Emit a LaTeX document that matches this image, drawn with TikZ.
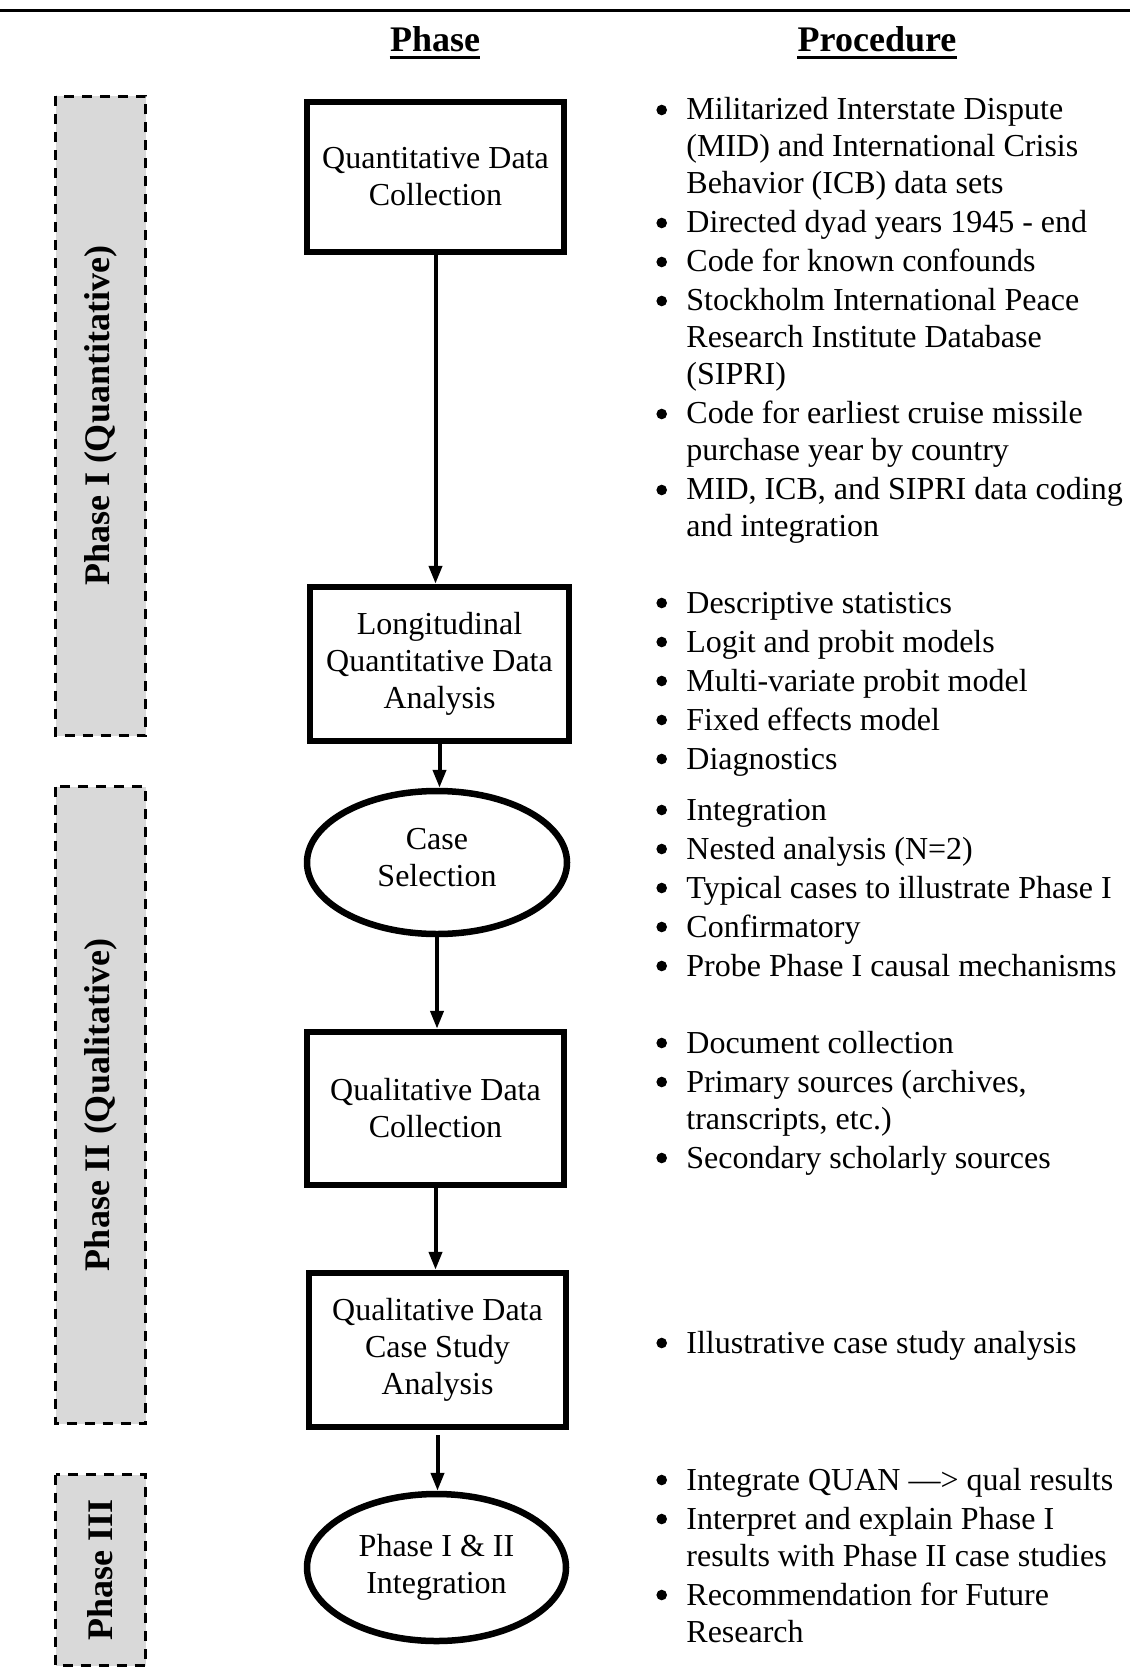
\documentclass[tikz,border=0pt]{standalone}
\usepackage{fontspec}
\setmainfont{Liberation Serif}
\usetikzlibrary{arrows.meta,shapes.geometric}
\definecolor{phasegray}{RGB}{217,217,217}
\newcommand\bul{\makebox[15pt][l]{\tikz[baseline=0pt]\fill (2.8pt,5pt) circle (2.65pt);}}
\tikzset{
  procbox/.style={draw, line width=3.25pt, rectangle, minimum width=128.5pt, minimum height=76.5pt,
    inner sep=0pt, align=center, font=\fontsize{16pt}{18.5pt}\selectfont},
  procell/.style={draw, line width=3.25pt, ellipse, inner sep=0pt, align=center,
    font=\fontsize{16pt}{18.5pt}\selectfont},
  phasebox/.style={draw, fill=phasegray, dash pattern=on 5pt off 4pt, line width=1.5pt,
    rotate=90, minimum height=45pt, inner sep=0pt, font=\fontsize{18pt}{21pt}\selectfont\bfseries},
  arr/.style={line width=2pt, -{Triangle[length=9pt,width=6.5pt]}},
  proclist/.style={anchor=base west, inner sep=0pt, font=\fontsize{16pt}{18.5pt}\selectfont},
  headtxt/.style={anchor=base, inner sep=0pt, font=\fontsize{18pt}{21pt}\selectfont\bfseries},
  uline/.style={line width=1.5pt}
}
\begin{document}
\begin{tikzpicture}[x=0.5pt,y=-0.5pt]
\useasboundingbox (0,0) rectangle (1139,1674);

% top rule
\coordinate (ruleL) at (0,11);
\coordinate (ruleR) at (1130,11);
\draw[line width=1.5pt] (ruleL) -- (ruleR);

% headers
\node[headtxt] (hphase) at (435,52) {Phase};
\node[headtxt] (hproc) at (877,52) {Procedure};
\draw[uline] ([yshift=-2.75pt]hphase.base west) -- ([yshift=-2.75pt]hphase.base east);
\draw[uline] ([yshift=-2.75pt]hproc.base west) -- ([yshift=-2.75pt]hproc.base east);

% phase side boxes
\node[phasebox, minimum width=319.5pt] (p1) at (100.5,416) {Phase I (Quantitative)};
\node[phasebox, minimum width=318.5pt] (p2) at (100.5,1105) {Phase II (Qualitative)};
\node[phasebox, minimum width=95.5pt] (p3) at (100.5,1570) {Phase III};

% flow nodes
\node[procbox, minimum height=75pt] (b1) at (435.5,177) {Quantitative Data\\Collection};
\node[procbox, minimum width=129.5pt, minimum height=77pt] (b2) at (439.5,664) {Longitudinal\\Quantitative Data\\Analysis};
\node[procell, minimum width=130pt, minimum height=71.5pt] (e1) at (437,862.5) {Case\\Selection\rule[-5pt]{0pt}{5pt}};
\node[procbox] (b3) at (435.5,1108.5) {Qualitative Data\\Collection};
\node[procbox, minimum height=77pt] (b4) at (437.5,1350) {Qualitative Data\\Case Study\\Analysis};
\node[procell, minimum width=129.5pt, minimum height=73.5pt] (e2) at (436.5,1567.5) {Phase I \& II\\Integration};

% connectors
\draw[arr] (b1.south) -- (b1.south |- b2.north);
\draw[arr] (b2.south) -- (b2.south |- e1.north);
\draw[arr] (e1.south) -- (e1.south |- b3.north);
\draw[arr] (b3.south) -- (b3.south |- b4.north);
\draw[arr, shorten <=2.5pt] (b4.south) -- (b4.south |- e2.north);

% procedure lists
\node[proclist] (l1) at (656,120) {\begin{tabular}[t]{@{}l@{}l@{}}
\bul & Militarized Interstate Dispute\\
 & (MID) and International Crisis\\
 & Behavior (ICB) data sets\\[1pt]
\bul & Directed dyad years 1945 - end\\[1pt]
\bul & Code for known confounds\\[1pt]
\bul & Stockholm International Peace\\
 & Research Institute Database\\
 & (SIPRI)\\[1pt]
\bul & Code for earliest cruise missile\\
 & purchase year by country\\[1pt]
\bul & MID, ICB, and SIPRI data coding\\
 & and integration
\end{tabular}};

\node[proclist] (l2) at (656,613) {\begin{tabular}[t]{@{}l@{}l@{}}
\bul & Descriptive statistics\\[1pt]
\bul & Logit and probit models\\[1pt]
\bul & Multi-variate probit model\\[1pt]
\bul & Fixed effects model\\[1pt]
\bul & Diagnostics
\end{tabular}};

\node[proclist] (l3) at (656,820) {\begin{tabular}[t]{@{}l@{}l@{}}
\bul & Integration\\[1pt]
\bul & Nested analysis (N=2)\\[1pt]
\bul & Typical cases to illustrate Phase I\\[1pt]
\bul & Confirmatory\\[1pt]
\bul & Probe Phase I causal mechanisms
\end{tabular}};

\node[proclist] (l4) at (656,1053) {\begin{tabular}[t]{@{}l@{}l@{}}
\bul & Document collection\\[1pt]
\bul & Primary sources (archives,\\
 & transcripts, etc.)\\[1pt]
\bul & Secondary scholarly sources
\end{tabular}};

\node[proclist] (l5) at (656,1353) {\begin{tabular}[t]{@{}l@{}l@{}}
\bul & Illustrative case study analysis
\end{tabular}};

\node[proclist] (l6) at (656,1490) {\begin{tabular}[t]{@{}l@{}l@{}}
\bul & Integrate QUAN —> qual results\\[1pt]
\bul & Interpret and explain Phase I\\
 & results with Phase II case studies\\[1pt]
\bul & Recommendation for Future\\
 & Research
\end{tabular}};
\end{tikzpicture}
\end{document}
